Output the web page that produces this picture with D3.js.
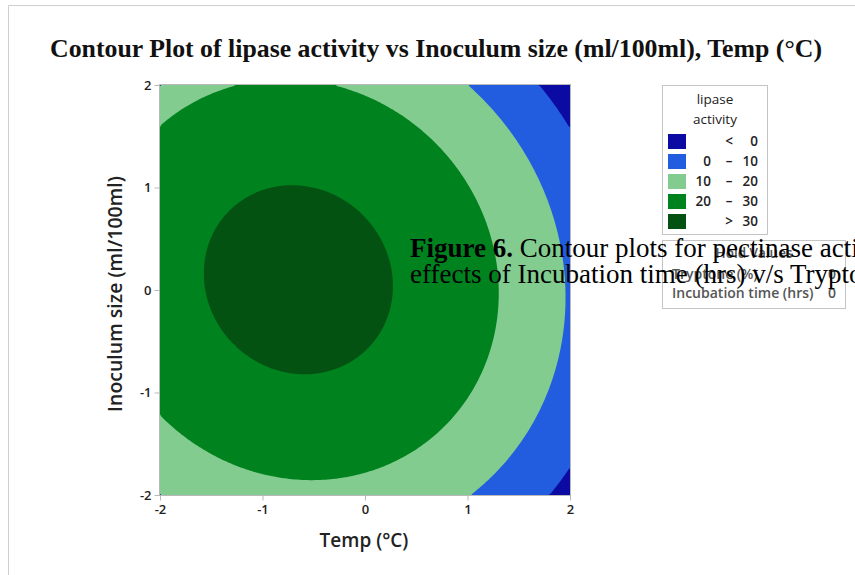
<!DOCTYPE html>
<html><head><meta charset="utf-8">
<script src="https://cdn.jsdelivr.net/npm/d3@7"></script>
<style>body{margin:0;background:#fff}svg{display:block}</style>
</head><body>
<svg id="c" width="855" height="575"></svg>
<script>
// ---- data ----
const xTicks = [-2, -1, 0, 1, 2];
const yTicks = [-2, -1, 0, 1, 2];
const levels = [0, 10, 20, 30];
const levelColors = ["#0b0ba3", "#225de0", "#82cc8f", "#00821f", "#045211"];
const legendLow = ["", "0", "10", "20", ""];
const legendSym = ["<", "–", "–", "–", ">"];
const legendHigh = ["0", "10", "20", "30", "30"];
// fitted response surface coefficients: b0, bTemp, bInoc, bTemp2, bInoc2, bTempInoc
const coefNames = ["b0", "bT", "bI", "bTT", "bII", "bTI"];
const coefValues = [31.43, -4.35, 0.384, -3.38, -3.38, -0.45];
const holdNames = ["Tryptone (%)", "Incubation time (hrs)"];
const holdValues = [0, 0];

const svg = d3.select("#c");
const W = 855, H = 575;
// frame
svg.append("line").attr("x1", 8.5).attr("y1", 5.5).attr("x2", W).attr("y2", 5.5).attr("stroke", "#cfcfcf");
svg.append("line").attr("x1", 8.5).attr("y1", 5.5).attr("x2", 8.5).attr("y2", H).attr("stroke", "#cfcfcf");

const L = 160, R = 570, T = 85, B = 495;
const x = d3.scaleLinear().domain([-2, 2]).range([L, R]);
const y = d3.scaleLinear().domain([-2, 2]).range([B, T]);

const c = Object.fromEntries(coefNames.map((k, i) => [k, coefValues[i]]));
const model = (t, s) => c.b0 + c.bT * t + c.bI * s + c.bTT * t * t + c.bII * s * s + c.bTI * t * s;

const n = 160;
const vals = new Array(n * n);
for (let j = 0; j < n; j++) for (let i = 0; i < n; i++) {
  const t = -2 + 4 * (i + 0.5) / n;
  const s = 2 - 4 * (j + 0.5) / n;
  vals[i + j * n] = model(t, s);
}
const contours = d3.contours().size([n, n]).thresholds(levels)(vals);
const proj = d3.geoTransform({
  point(px, py) { this.stream.point(x(-2 + 4 * px / n), y(2 - 4 * py / n)); }
});
const path = d3.geoPath(proj);

svg.append("clipPath").attr("id", "clip").append("rect")
  .attr("x", L).attr("y", T).attr("width", R - L).attr("height", B - T);
const g = svg.append("g").attr("clip-path", "url(#clip)");
g.append("rect").attr("x", L).attr("y", T).attr("width", R - L).attr("height", B - T).attr("fill", levelColors[0]);
g.selectAll("path.c").data(contours).join("path").attr("class", "c")
  .attr("d", path).attr("fill", (d, i) => levelColors[i + 1]);

// plot border
svg.append("rect").attr("x", L - 0.5).attr("y", T - 0.5).attr("width", R - L + 1).attr("height", B - T + 1)
  .attr("fill", "none").attr("stroke", "#b9b9b9");

const tickFont = "'Open Sans', sans-serif";
// axes
const xAxis = svg.append("g").attr("transform", `translate(0,${B + 0.5})`)
  .call(d3.axisBottom(x).tickValues(xTicks).tickSize(5).tickFormat(d => String(d)));
const yAxis = svg.append("g").attr("transform", `translate(${L - 0.5},0)`)
  .call(d3.axisLeft(y).tickValues(yTicks).tickSize(5).tickFormat(d => String(d)));
[xAxis, yAxis].forEach(a => {
  a.select(".domain").remove();
  a.selectAll("line").attr("stroke", "#b9b9b9");
  a.selectAll("text").attr("fill", "#222").style("font-family", tickFont).style("font-size", "13px").style("font-weight", 600);
});
xAxis.selectAll("text").attr("dy", "0.95em").attr("y", 6);
yAxis.selectAll("text").attr("x", -8);

svg.append("text").attr("x", 364).attr("y", 547).attr("text-anchor", "middle")
  .style("font-family", tickFont).style("font-size", "19px").style("font-weight", 600).attr("fill", "#222")
  .text("Temp (°C)");
svg.append("text").attr("transform", "translate(122,294) rotate(-90)").attr("text-anchor", "middle")
  .style("font-family", tickFont).style("font-size", "19.5px").style("font-weight", 600).attr("fill", "#222")
  .text("Inoculum size (ml/100ml)");

// title
svg.append("text").attr("x", 50).attr("y", 57).attr("textLength", 772).attr("lengthAdjust", "spacingAndGlyphs")
  .style("font-family", "'Liberation Serif', 'Times New Roman', serif").style("font-size", "25px").style("font-weight", "bold")
  .attr("fill", "#111")
  .text("Contour Plot of lipase activity vs Inoculum size (ml/100ml), Temp (°C)");

// legend
const lg = svg.append("g");
lg.append("rect").attr("x", 662.5).attr("y", 85.5).attr("width", 105).attr("height", 149)
  .attr("fill", "#fff").attr("stroke", "#c4c4c4");
const lf = "'Open Sans', sans-serif";
lg.append("text").attr("x", 715).attr("y", 104).attr("text-anchor", "middle").style("font-family", lf)
  .style("font-size", "13.5px").attr("fill", "#222").text("lipase");
lg.append("text").attr("x", 715).attr("y", 124).attr("text-anchor", "middle").style("font-family", lf)
  .style("font-size", "13.5px").attr("fill", "#222").text("activity");
levelColors.forEach((col, i) => {
  const cy = 141 + i * 20;
  lg.append("rect").attr("x", 668).attr("y", cy - 7).attr("width", 18).attr("height", 15).attr("fill", col);
  const tt = (tx, anchor, s) => lg.append("text").attr("x", tx).attr("y", cy + 5).attr("text-anchor", anchor)
    .style("font-family", lf).style("font-size", "13.5px").style("font-weight", 600).attr("fill", "#222").text(s);
  if (legendLow[i]) tt(711, "end", legendLow[i]);
  tt(729, "middle", legendSym[i]);
  tt(758, "end", legendHigh[i]);
});

// hold values box
const hb = svg.append("g");
hb.append("rect").attr("x", 662.5).attr("y", 240.5).attr("width", 183).attr("height", 68)
  .attr("fill", "#fff").attr("stroke", "#c4c4c4");
hb.append("text").attr("x", 754).attr("y", 258).attr("text-anchor", "middle").style("font-family", lf)
  .style("font-size", "13.5px").style("font-weight", 600).attr("fill", "#555").text("Hold Values");
holdNames.forEach((nm, i) => {
  const yy = 279 + i * 19;
  hb.append("text").attr("x", 672).attr("y", yy).style("font-family", lf).style("font-size", "14px")
    .style("font-weight", 600).attr("fill", "#555").text(nm);
  hb.append("text").attr("x", 836).attr("y", yy).attr("text-anchor", "end").style("font-family", lf)
    .style("font-size", "14px").style("font-weight", 600).attr("fill", "#555").text(holdValues[i]);
});

// overlapping caption
const cap = svg.append("text").attr("x", 410).attr("y", 257)
  .style("font-family", "'Liberation Serif', 'Times New Roman', serif").style("font-size", "27px").attr("fill", "#000");
cap.append("tspan").style("font-weight", "bold").text("Figure 6.");
cap.append("tspan").text(" Contour plots for pectinase activity showing the");
svg.append("text").attr("x", 410).attr("y", 283)
  .style("font-family", "'Liberation Serif', 'Times New Roman', serif").style("font-size", "27px").attr("fill", "#000")
  .text("effects of Incubation time (hrs) v/s Tryptone (%)");
</script>
</body></html>
